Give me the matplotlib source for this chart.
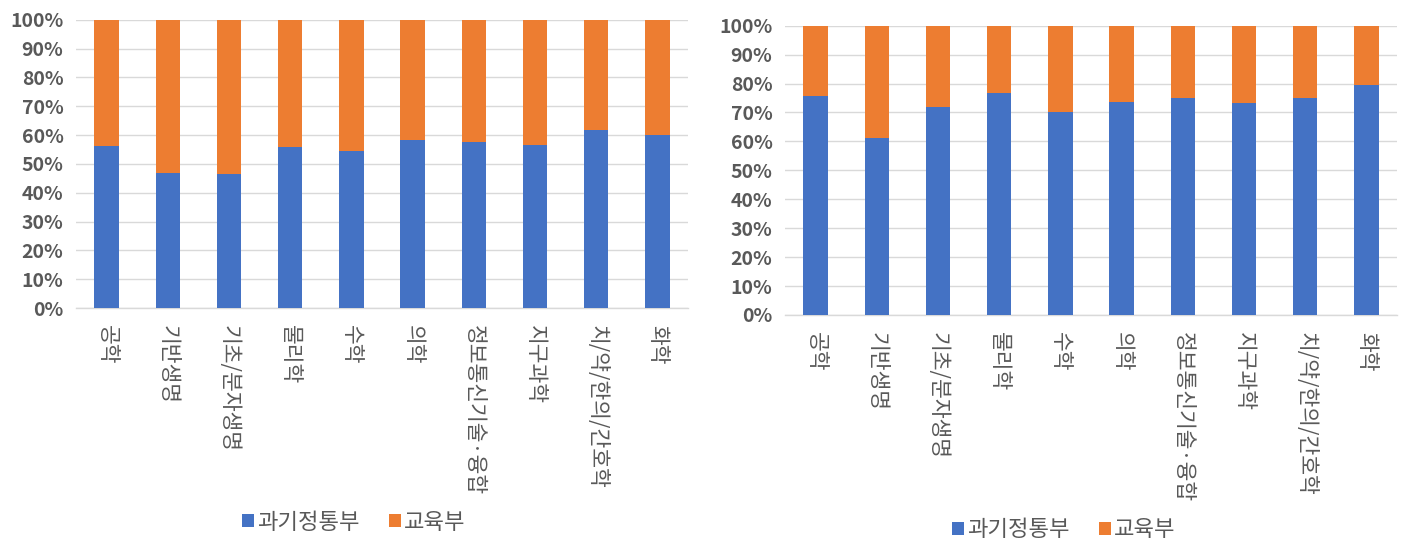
import numpy as np
import matplotlib
matplotlib.use("Agg")
import matplotlib.pyplot as plt
from matplotlib.ticker import PercentFormatter

plt.rcParams['font.family'] = ['Noto Sans CJK KR', 'DejaVu Sans']

# categories (research fields)
fields = ['공학', '기반생명', '기초/분자생명', '물리학', '수학', '의학',
          '정보통신기술·융합', '지구과학', '치/약/한의/간호학', '화학']
series_names = ['과기정통부', '교육부']

# share of 과기정통부 (the rest is 교육부)
left_msit = [0.563, 0.468, 0.465, 0.558, 0.545, 0.584, 0.576, 0.565, 0.617, 0.600]
right_msit = [0.757, 0.612, 0.719, 0.767, 0.702, 0.736, 0.750, 0.733, 0.750, 0.795]

BLUE = '#4472C4'
ORANGE = '#ED7D31'
GRID = '#D9D9D9'
TXT = '#595959'

fig = plt.figure(figsize=(14.09, 5.56), dpi=100)

panels = [
    (left_msit, [0.0539, 0.446, 0.4344, 0.5186], (0.251, 0.061)),
    (right_msit, [0.5571, 0.4335, 0.4344, 0.5203], (0.755, 0.047)),
]

for msit, rect, leg_pos in panels:
    ax = fig.add_axes(rect)
    msit = np.array(msit)
    moe = 1.0 - msit
    x = np.arange(len(fields))
    ax.bar(x, msit, width=0.4, color=BLUE, label=series_names[0], zorder=3)
    ax.bar(x, moe, width=0.4, bottom=msit, color=ORANGE, label=series_names[1], zorder=3)

    ax.set_xlim(-0.5, len(fields) - 0.5)
    ax.set_ylim(0, 1)
    ax.set_yticks(np.arange(0, 1.01, 0.1))
    ax.yaxis.set_major_formatter(PercentFormatter(1.0, decimals=0))
    ax.grid(axis='y', color=GRID, linewidth=1, zorder=0)
    for s in ['top', 'right', 'left']:
        ax.spines[s].set_visible(False)
    ax.spines['bottom'].set_color(GRID)
    ax.spines['bottom'].set_linewidth(1)
    ax.tick_params(axis='both', length=0)
    ax.tick_params(axis='y', pad=9, labelsize=14, labelcolor=TXT)
    for lbl in ax.get_yticklabels():
        lbl.set_fontweight('bold')
    ax.set_xticks(x)
    ax.set_xticklabels(fields, rotation=-90, fontsize=15.5, color=TXT,
                       va='top', ha='center', fontweight='medium')
    ax.tick_params(axis='x', pad=12)

    leg = ax.legend(loc='center', bbox_to_anchor=leg_pos, bbox_transform=fig.transFigure,
                    ncol=2, frameon=False, handlelength=0.55, handleheight=0.55,
                    handletextpad=0.15, columnspacing=1.3,
                    prop={'size': 16, 'weight': 'medium'})
    for t in leg.get_texts():
        t.set_color(TXT)

fig.savefig('out.png', dpi=100)
